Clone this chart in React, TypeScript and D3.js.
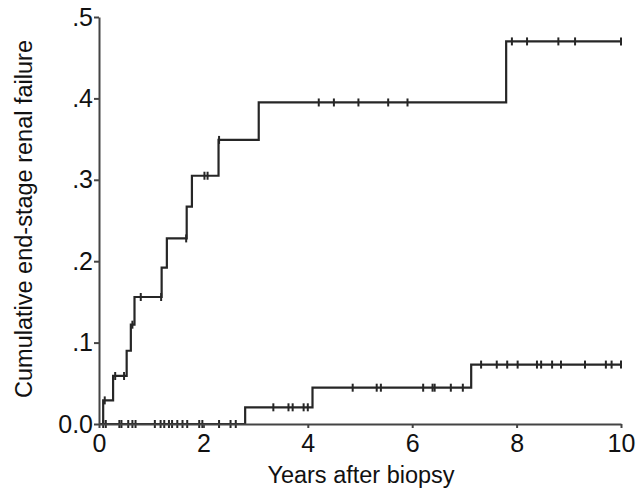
import * as d3 from "d3";
import { useRef, useEffect } from "react";

// upper curve: step times (years) and cumulative failure after each step
const upperTimes = [0, 0.08, 0.27, 0.53, 0.61, 0.68, 1.2, 1.3, 1.68, 1.78, 2.29, 3.06, 7.8];
const upperValues = [0, 0.029, 0.059, 0.09, 0.122, 0.156, 0.192, 0.228, 0.267, 0.305, 0.349, 0.395, 0.47];
const upperCensored = [
  0.11, 0.31, 0.48, 0.64, 0.8, 1.19, 1.67, 2.02, 2.08, 2.3, 4.21, 4.5, 4.97, 5.54, 5.91,
  7.91, 8.2, 8.8, 9.12, 10,
];

// lower curve
const lowerTimes = [0, 2.8, 4.09, 7.13];
const lowerValues = [0, 0.0205, 0.0446, 0.073];
const lowerCensored = [
  0.08, 0.13, 0.39, 0.43, 0.56, 0.64, 0.7, 1.07, 1.18, 1.25, 1.34, 1.4, 1.5, 1.6, 1.69,
  1.92, 1.98, 2.3, 2.52, 2.62, 3.34, 3.63, 3.71, 3.92, 4.0, 4.86, 5.32, 5.4, 6.21, 6.39,
  6.43, 6.74, 6.97, 7.32, 7.62, 7.82, 8.02, 8.39, 8.47, 8.68, 8.85, 9.31, 9.71, 9.82, 10,
];

const xTicks = [0, 2, 4, 6, 8, 10];
const yTicks = [0, 0.1, 0.2, 0.3, 0.4, 0.5];
const xMax = 10;

const font = "'Liberation Sans', Arial, sans-serif";
const ink = "#262626";

function stepAt(times: number[], values: number[], t: number) {
  const i = d3.bisectRight(times, t) - 1;
  return values[Math.max(0, i)];
}

export default function App() {
  const width = 644;
  const height = 491;
  const x = d3.scaleLinear([0, xMax], [99, 621]);
  const y = d3.scaleLinear([0, 0.5], [424, 17]);

  const gx = useRef<SVGGElement>(null);
  const gy = useRef<SVGGElement>(null);

  const line = d3
    .line<[number, number]>()
    .x((d) => x(d[0]))
    .y((d) => y(d[1]))
    .curve(d3.curveStepAfter);

  const curves = [
    { times: upperTimes, values: upperValues, censored: upperCensored },
    { times: lowerTimes, values: lowerValues, censored: lowerCensored },
  ];

  useEffect(() => {
    const ax = d3
      .select(gx.current)
      .call(d3.axisBottom(x).tickValues(xTicks).tickSize(4).tickSizeOuter(0).tickPadding(6));
    const ay = d3
      .select(gy.current)
      .call(
        d3
          .axisLeft(y)
          .tickValues(yTicks)
          .tickSize(5)
          .tickSizeOuter(0)
          .tickPadding(1)
          .tickFormat((d) => (d === 0 ? "0.0" : d3.format(".1f")(d as number).replace(/^0/, "")))
      );
    [ax, ay].forEach((g) => {
      g.selectAll(".domain").attr("stroke", "#444").attr("stroke-width", 2);
      g.selectAll(".tick line").attr("stroke", "#444").attr("stroke-width", 2);
      g.selectAll(".tick text")
        .attr("fill", "#111")
        .style("font-family", font)
        .style("font-size", "25px");
    });
  }, []);

  return (
    <svg
      width={width}
      height={height}
      style={{ position: "absolute", left: 0, top: 0, background: "#fff" }}
    >
      {curves.map((c, k) => {
        const pts: [number, number][] = c.times.map((t, i) => [t, c.values[i]]);
        pts.push([xMax, c.values[c.values.length - 1]]);
        return (
          <g key={k}>
            <path d={line(pts) ?? ""} fill="none" stroke={ink} strokeWidth={2.2} />
            {c.censored.map((t, i) => {
              const v = stepAt(c.times, c.values, t);
              return (
                <line
                  key={i}
                  x1={x(t)}
                  x2={x(t)}
                  y1={y(v) - 4}
                  y2={y(v) + 4}
                  stroke={ink}
                  strokeWidth={2}
                />
              );
            })}
          </g>
        );
      })}
      <g ref={gx} transform={`translate(0,${y(0)})`} />
      <g ref={gy} transform={`translate(${x(0)},0)`} />
      <text
        x={361}
        y={483}
        textAnchor="middle"
        fontFamily={font}
        fontSize={23.5}
        fill="#111"
      >
        Years after biopsy
      </text>
      <text
        transform="translate(32,219) rotate(-90)"
        textAnchor="middle"
        fontFamily={font}
        fontSize={23.5}
        fill="#111"
      >
        Cumulative end-stage renal failure
      </text>
    </svg>
  );
}
